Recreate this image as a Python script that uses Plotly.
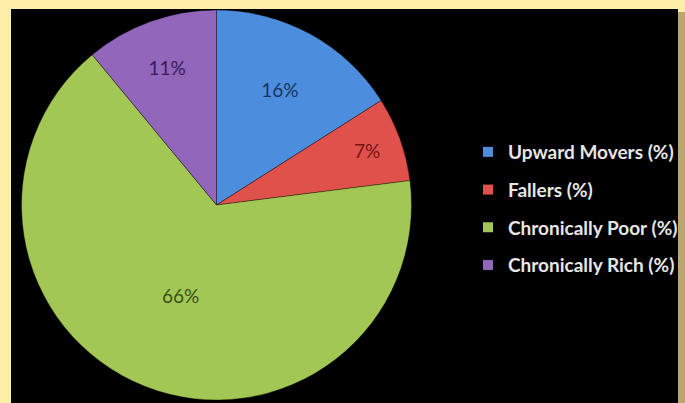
import plotly.graph_objects as go

# Share of households by mobility category
categories = ["Upward Movers (%)", "Fallers (%)", "Chronically Poor (%)", "Chronically Rich (%)"]
shares = [16, 7, 66, 11]
slice_colors = ["#4C8EDD", "#E0514B", "#A3C754", "#9266BA"]
label_colors = ["#17355E", "#701614", "#36521A", "#381B57"]

W, H = 685, 403

fig = go.Figure()

fig.add_trace(
    go.Pie(
        labels=categories,
        values=shares,
        sort=False,
        direction="clockwise",
        rotation=0,
        marker=dict(colors=slice_colors, line=dict(color="rgba(0,0,0,0.35)", width=1)),
        texttemplate="%{value}%",
        textposition="inside",
        insidetextorientation="horizontal",
        textfont=dict(family="Lato", size=19, color=label_colors),
        hoverinfo="label+percent",
        domain=dict(x=[15 / W, 418 / W], y=[1 - 400 / H, 1 - 10 / H]),
        showlegend=False,
    )
)

# Legend entries, one group per category so the rows can be spaced out
for name, color in zip(categories, slice_colors):
    fig.add_trace(
        go.Scatter(
            x=[None],
            y=[None],
            mode="markers",
            name=name,
            legendgroup=name,
            marker=dict(symbol="square", size=10, color=color),
            hoverinfo="skip",
        )
    )

fig.update_layout(
    width=W,
    height=H,
    margin=dict(l=0, r=0, t=0, b=0),
    paper_bgcolor="#FFEEA8",
    plot_bgcolor="rgba(0,0,0,0)",
    font=dict(family="Lato"),
    xaxis=dict(visible=False),
    yaxis=dict(visible=False),
    legend=dict(
        x=468 / W,
        y=1 - 133 / H,
        xanchor="left",
        yanchor="top",
        tracegroupgap=10,
        bgcolor="rgba(0,0,0,0)",
        font=dict(family="Lato", size=19, color="#E6E6E6", weight="bold"),
    ),
    shapes=[
        # drop shadow along the right edge of the panel
        dict(type="rect", xref="paper", yref="paper", x0=678 / W, x1=1, y0=0, y1=1 - 12 / H,
             fillcolor="#B9A86E", line=dict(width=0), layer="below"),
        # black chart panel
        dict(type="rect", xref="paper", yref="paper", x0=11 / W, x1=678 / W, y0=0, y1=1 - 9 / H,
             fillcolor="#000000", line=dict(width=0), layer="below"),
    ],
)

fig.write_html("out.html")
